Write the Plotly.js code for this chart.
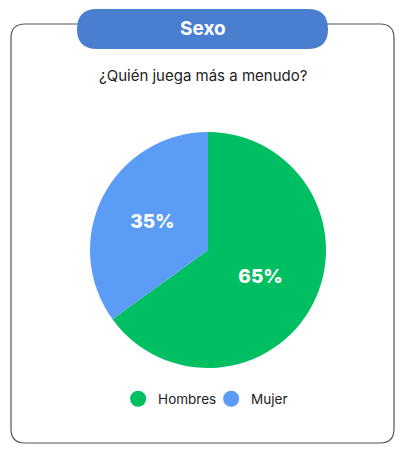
<!DOCTYPE html>
<html>
<head>
<meta charset="utf-8">
<script src="https://cdn.plot.ly/plotly-3.0.1.min.js"></script>
<style>
  html, body { margin: 0; padding: 0; background: #fff; }
  #chart { width: 406px; height: 458px; }
</style>
</head>
<body>
<div id="chart"></div>
<script>
    const categories = ['Hombres', 'Mujer'];
    const shares = [65, 35];
    const colors = ['#00bf63', '#5b9cf6'];
    const heading = 'Sexo';
    const question = '¿Quién juega más a menudo?';

    const W = 406, H = 458;
    // pixel -> paper (margins are zero)
    const px = x => x / W;
    const py = y => 1 - y / H;

    const roundRect = (x0, y0, x1, y1, r) => {
        const p = (x, y) => px(x) + ',' + py(y);
        return 'M' + p(x0 + r, y0) + ' L' + p(x1 - r, y0) +
            ' Q' + p(x1, y0) + ' ' + p(x1, y0 + r) +
            ' L' + p(x1, y1 - r) +
            ' Q' + p(x1, y1) + ' ' + p(x1 - r, y1) +
            ' L' + p(x0 + r, y1) +
            ' Q' + p(x0, y1) + ' ' + p(x0, y1 - r) +
            ' L' + p(x0, y0 + r) +
            ' Q' + p(x0, y0) + ' ' + p(x0 + r, y0) + ' Z';
    }

    const pieTrace = {
        type: 'pie',
        labels: categories,
        values: shares,
        sort: false,
        direction: 'clockwise',
        rotation: 0,
        marker: {colors: colors, line: {width: 0}},
        texttemplate: '%{value}%',
        textposition: 'inside',
        insidetextfont: {color: '#ffffff', size: 19, family: 'Inter, sans-serif', weight: 800},
        hoverinfo: 'none',
        showlegend: false,
        domain: {x: [px(90), px(326)], y: [py(368), py(132)]}
    }

    // legend entries with round markers
    const legendTraces = categories.map((c, i) => ({
        type: 'scatter',
        mode: 'markers',
        x: [null],
        y: [null],
        name: c,
        marker: {color: colors[i], size: 17, symbol: 'circle'},
        showlegend: true,
        hoverinfo: 'none'
    }));

    const layout = {
        width: W,
        height: H,
        margin: {t: 0, b: 0, l: 0, r: 0},
        paper_bgcolor: '#ffffff',
        plot_bgcolor: 'rgba(0,0,0,0)',
        font: {family: 'Inter, sans-serif', color: '#222'},
        hovermode: false,
        xaxis: {visible: false, fixedrange: true, domain: [0, 1]},
        yaxis: {visible: false, fixedrange: true, domain: [0, 1]},
        showlegend: true,
        legend: {
            orientation: 'h',
            x: 0.52, xanchor: 'center',
            y: py(399), yanchor: 'middle',
            font: {size: 13.5, color: '#222'},
            itemclick: false, itemdoubleclick: false,
            itemwidth: 30,
            entrywidth: 48, entrywidthmode: 'pixels'
        },
        shapes: [
            {type: 'path', xref: 'paper', yref: 'paper', layer: 'below',
             path: roundRect(11, 24, 394, 443, 14),
             line: {color: '#555555', width: 1.2}, fillcolor: 'rgba(0,0,0,0)'},
            {type: 'path', xref: 'paper', yref: 'paper', layer: 'above',
             path: roundRect(77, 9, 328, 49, 20),
             line: {width: 0}, fillcolor: '#4a7fd0'}
        ],
        annotations: [
            {text: '<b>' + heading + '</b>', xref: 'paper', yref: 'paper',
             x: px(203), y: py(29), xanchor: 'center', yanchor: 'middle',
             showarrow: false, font: {size: 19, color: '#ffffff'}},
            {text: question, xref: 'paper', yref: 'paper',
             x: px(203), y: py(75), xanchor: 'center', yanchor: 'middle',
             showarrow: false, font: {size: 15, color: '#222222'}}
        ]
    }

    Plotly.newPlot('chart', [pieTrace].concat(legendTraces), layout, {displayModeBar: false, staticPlot: true});
</script>
</body>
</html>
